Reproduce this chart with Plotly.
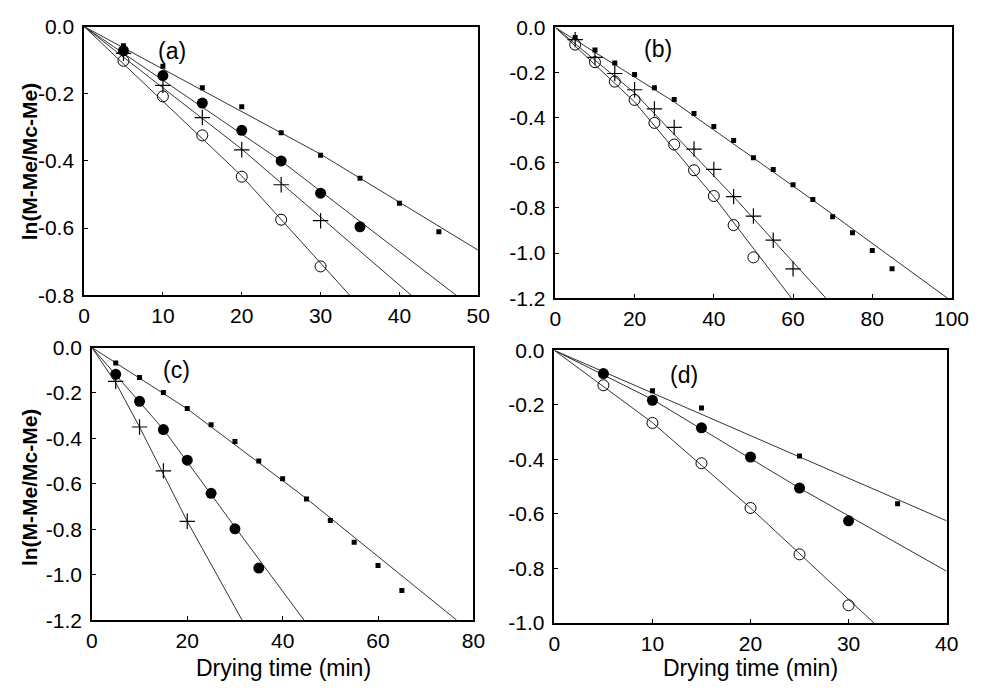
import plotly.graph_objects as go

# ---------------- data ----------------
# Panel (a)
a_sq_x = [5, 10, 15, 20, 25, 30, 35, 40, 45]
a_sq_y = [-0.057, -0.118, -0.182, -0.239, -0.316, -0.383, -0.452, -0.526, -0.611]
a_fc_x = [5, 10, 15, 20, 25, 30, 35]
a_fc_y = [-0.072, -0.146, -0.228, -0.309, -0.400, -0.496, -0.596]
a_pl_x = [5, 10, 15, 20, 25, 30]
a_pl_y = [-0.08, -0.175, -0.271, -0.367, -0.471, -0.578]
a_oc_x = [5, 10, 15, 20, 25, 30]
a_oc_y = [-0.102, -0.208, -0.324, -0.447, -0.575, -0.714]
a_sq_lx = [0, 30, 50];      a_sq_ly = [0, -0.38, -0.666]
a_fc_lx = [0, 25, 47.2];    a_fc_ly = [0, -0.40, -0.80]
a_pl_lx = [0, 20, 41.5];    a_pl_ly = [0, -0.365, -0.80]
a_oc_lx = [0, 20, 33.7];    a_oc_ly = [0, -0.445, -0.80]

# Panel (b)
b_sq_x = [5, 10, 15, 20, 25, 30, 35, 40, 45, 50, 55, 60, 65, 70, 75, 80, 85]
b_sq_y = [-0.044, -0.10, -0.157, -0.209, -0.267, -0.319, -0.381, -0.439, -0.501,
          -0.577, -0.63, -0.697, -0.763, -0.839, -0.91, -0.989, -1.069]
b_pl_x = [5, 10, 15, 20, 25, 30, 35, 40, 45, 50, 55, 60]
b_pl_y = [-0.054, -0.133, -0.204, -0.276, -0.361, -0.443, -0.539, -0.629, -0.75,
          -0.836, -0.943, -1.07]
b_oc_x = [5, 10, 15, 20, 25, 30, 35, 40, 45, 50]
b_oc_y = [-0.076, -0.154, -0.24, -0.321, -0.423, -0.519, -0.633, -0.747, -0.876, -1.019]
b_sq_lx = [0, 30, 65, 99];      b_sq_ly = [0, -0.33, -0.765, -1.2]
b_pl_lx = [0, 20, 45, 68.3];    b_pl_ly = [0, -0.29, -0.75, -1.2]
b_oc_lx = [0, 20, 40, 59.6];    b_oc_ly = [0, -0.33, -0.75, -1.2]

# Panel (c)
c_sq_x = [5, 10, 15, 20, 25, 30, 35, 40, 45, 50, 55, 60, 65]
c_sq_y = [-0.068, -0.132, -0.198, -0.269, -0.34, -0.414, -0.499, -0.578, -0.667,
          -0.761, -0.857, -0.959, -1.07]
c_fc_x = [5, 10, 15, 20, 25, 30, 35]
c_fc_y = [-0.118, -0.237, -0.361, -0.496, -0.642, -0.798, -0.971]
c_pl_x = [5, 10, 15, 20]
c_pl_y = [-0.149, -0.35, -0.543, -0.765]
c_sq_lx = [0, 20, 45, 76.5];        c_sq_ly = [0, -0.27, -0.665, -1.2]
c_fc_lx = [0, 15, 30, 44.5];        c_fc_ly = [0, -0.36, -0.79, -1.2]
c_pl_lx = [0, 5, 10, 20, 31.5];     c_pl_ly = [0, -0.155, -0.35, -0.765, -1.2]

# Panel (d)
d_sq_x = [5, 10, 15, 25, 35]
d_sq_y = [-0.08, -0.148, -0.211, -0.387, -0.562]
d_fc_x = [5, 10, 15, 20, 25, 30]
d_fc_y = [-0.085, -0.183, -0.284, -0.391, -0.505, -0.625]
d_oc_x = [5, 10, 15, 20, 25, 30]
d_oc_y = [-0.128, -0.266, -0.414, -0.578, -0.748, -0.935]
d_sq_lx = [0, 25, 40];          d_sq_ly = [0, -0.39, -0.625]
d_fc_lx = [0, 10, 25, 40];      d_fc_ly = [0, -0.18, -0.505, -0.81]
d_oc_lx = [0, 10, 20, 32.6];    d_oc_ly = [0, -0.265, -0.578, -1.0]

# tick values / labels
x_ticks = [[0, 10, 20, 30, 40, 50], [0, 20, 40, 60, 80, 100], [0, 20, 40, 60, 80], [0, 10, 20, 30, 40]]
y_tick_vals = [0.0, -0.2, -0.4, -0.6, -0.8, -1.0, -1.2]
y_tick_text = ["0.0", "-0.2", "-0.4", "-0.6", "-0.8", "-1.0", "-1.2"]
y_mins = [-0.8, -1.2, -1.2, -1.0]

panel_labels = ["(a)", "(b)", "(c)", "(d)"]
y_title = "ln(M-Me/Mc-Me)"
x_title = "Drying time (min)"

# ---------------- figure ----------------
W, H = 990, 694
FAM = "Liberation Sans, Arial, sans-serif"
fig = go.Figure()

LINE = dict(color="#333333", width=1)
STY = {
    "sq": dict(symbol="square", size=5, color="black"),
    "fc": dict(symbol="circle", size=11, color="black"),
    "pl": dict(symbol="cross-thin", size=11, color="black", line=dict(color="black", width=1.2)),
    "oc": dict(symbol="circle-open", size=11, color="black", line=dict(color="black", width=1)),
}

def add(ax, lx, ly, px, py, kind):
    xa = "x" if ax == 1 else f"x{ax}"
    ya = "y" if ax == 1 else f"y{ax}"
    fig.add_trace(go.Scatter(x=lx, y=ly, mode="lines", line=LINE, xaxis=xa, yaxis=ya,
                             showlegend=False, hoverinfo="skip"))
    fig.add_trace(go.Scatter(x=px, y=py, mode="markers", marker=STY[kind], xaxis=xa, yaxis=ya,
                             showlegend=False))

add(1, a_sq_lx, a_sq_ly, a_sq_x, a_sq_y, "sq")
add(1, a_fc_lx, a_fc_ly, a_fc_x, a_fc_y, "fc")
add(1, a_pl_lx, a_pl_ly, a_pl_x, a_pl_y, "pl")
add(1, a_oc_lx, a_oc_ly, a_oc_x, a_oc_y, "oc")
add(2, b_sq_lx, b_sq_ly, b_sq_x, b_sq_y, "sq")
add(2, b_pl_lx, b_pl_ly, b_pl_x, b_pl_y, "pl")
add(2, b_oc_lx, b_oc_ly, b_oc_x, b_oc_y, "oc")
add(3, c_sq_lx, c_sq_ly, c_sq_x, c_sq_y, "sq")
add(3, c_fc_lx, c_fc_ly, c_fc_x, c_fc_y, "fc")
add(3, c_pl_lx, c_pl_ly, c_pl_x, c_pl_y, "pl")
add(4, d_sq_lx, d_sq_ly, d_sq_x, d_sq_y, "sq")
add(4, d_fc_lx, d_fc_ly, d_fc_x, d_fc_y, "fc")
add(4, d_oc_lx, d_oc_ly, d_oc_x, d_oc_y, "oc")

# pixel boxes (left, right, top, bottom)
boxes = [(80, 484, 15, 293), (563, 969, 16, 296), (88, 479, 347, 629), (562, 964, 350, 632)]

FONT = dict(family=FAM, size=21, color="black")
common = dict(showgrid=False, zeroline=False, showline=True, linecolor="black", linewidth=1.5,
              mirror=True, ticks="inside", ticklen=4, tickcolor="black", tickfont=FONT)

layout = {}
for i, (l, r, t, b) in enumerate(boxes):
    n = "" if i == 0 else str(i + 1)
    xt = x_ticks[i]
    ym = y_mins[i]
    yv = [v for v in y_tick_vals if v >= ym - 1e-9]
    yt = y_tick_text[:len(yv)]
    layout[f"xaxis{n}"] = dict(domain=[l / W, r / W], range=[xt[0], xt[-1]],
                               tickmode="array", tickvals=xt, ticktext=[str(v) for v in xt],
                               anchor=f"y{n}", ticklabelstandoff=1, **common)
    layout[f"yaxis{n}"] = dict(domain=[1 - b / H, 1 - t / H], range=[ym, 0],
                               tickmode="array", tickvals=yv, ticktext=yt,
                               anchor=f"x{n}", ticklabelstandoff=4, **common)

fig.update_layout(**layout)

ann = []
lab_pos = [(11.1, -0.072), (25.9, -0.094), (17.8, -0.098), (13.2, -0.089)]
for i, (txt, (lx, ly)) in enumerate(zip(panel_labels, lab_pos)):
    n = "" if i == 0 else str(i + 1)
    ann.append(dict(text=txt, x=lx, y=ly, xref=f"x{n}", yref=f"y{n}", showarrow=False,
                    font=dict(family=FAM, size=23, color="black")))
for yc in (155, 492):
    ann.append(dict(text=f"<b>{y_title}</b>", x=24 / W, y=1 - yc / H, xref="paper", yref="paper",
                    xanchor="center", yanchor="middle",
                    textangle=-90, showarrow=False,
                    font=dict(family=FAM, size=21, color="black")))
for xc in (284, 763):
    ann.append(dict(text=x_title, x=xc / W, y=1 - 679 / H, xref="paper", yref="paper",
                    xanchor="center", yanchor="middle",
                    showarrow=False,
                    font=dict(family=FAM, size=23, color="black")))

fig.update_layout(annotations=ann, width=W, height=H, margin=dict(l=0, r=0, t=0, b=0),
                  plot_bgcolor="white", paper_bgcolor="white")

fig.write_html("out.html")
